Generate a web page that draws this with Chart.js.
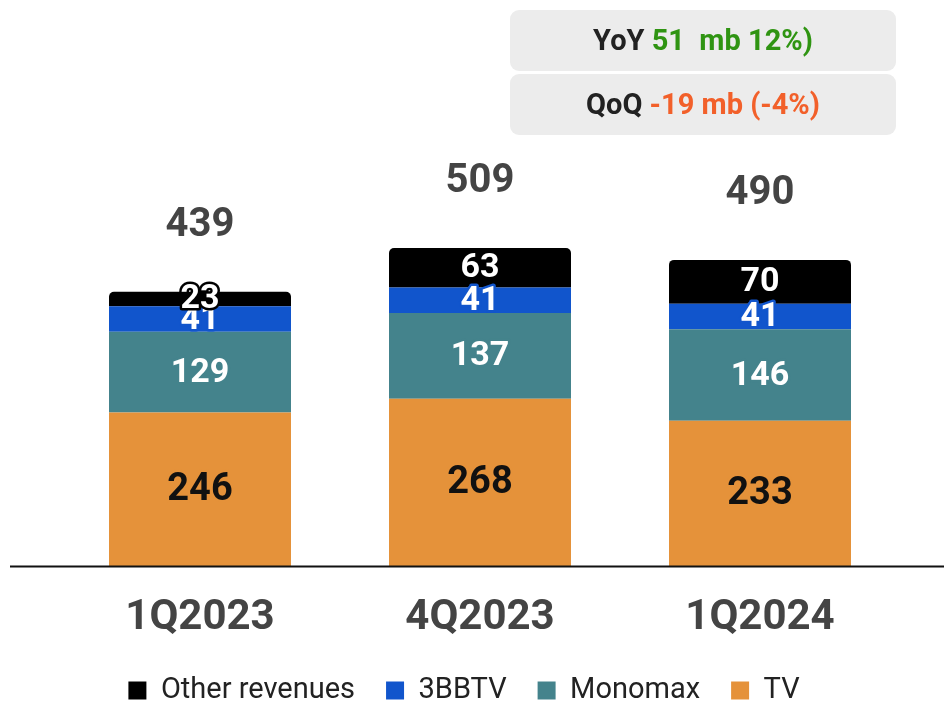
<!DOCTYPE html>
<html>
<head>
<meta charset="utf-8">
<script src="https://cdn.jsdelivr.net/npm/chart.js@4"></script>
<style>
  html, body { margin: 0; padding: 0; background: #fff; }
  #wrap { width: 944px; height: 701px; }
</style>
</head>
<body>
<div id="wrap"><canvas id="revChart"></canvas></div>
<script>
// quarters on the x axis
const categories = ["1Q2023", "4Q2023", "1Q2024"];

// revenue by segment (mb), stacked bottom to top
const tvValues = [246, 268, 233];
const monomaxValues = [129, 137, 146];
const bbtvValues = [41, 41, 41];
const otherValues = [23, 63, 70];

// totals printed above each bar
const totals = [439, 509, 490];

// change boxes at the top right
const yoyParts = [["YoY ", "#222222"], ["51  mb 12%)", "#2f9412"]];
const qoqParts = [["QoQ ", "#222222"], ["-19 mb (-4%)", "#f2602a"]];

const FONT = "Roboto, 'Noto Sans', sans-serif";

// values inside the segments, totals above the bars
const labelPlugin = {
  id: "segLabels",
  afterDatasetsDraw(chart) {
    const ctx = chart.ctx;
    ctx.save();
    ctx.textAlign = "center";
    ctx.textBaseline = "middle";
    chart.data.datasets.forEach(function (ds, di) {
      const meta = chart.getDatasetMeta(di);
      meta.data.forEach(function (bar, i) {
        const y = (bar.y + bar.base) / 2;
        const isTv = di === 0;
        ctx.font = "bold " + (isTv ? 38 : 34) + "px " + FONT;
        ctx.lineJoin = "round";
        ctx.lineWidth = 5;
        ctx.strokeStyle = ds.backgroundColor;
        ctx.strokeText(ds.data[i], bar.x, y + 1);
        ctx.fillStyle = isTv ? "#111111" : "#ffffff";
        ctx.fillText(ds.data[i], bar.x, y + 1);
      });
    });
    // totals
    const topMeta = chart.getDatasetMeta(chart.data.datasets.length - 1);
    ctx.font = "bold 40px " + FONT;
    ctx.fillStyle = "#444444";
    topMeta.data.forEach(function (bar, i) {
      ctx.fillText(totals[i], bar.x, bar.y - 66);
    });
    ctx.restore();
  }
};

// base line across the whole width, legend nudged left
const baseLinePlugin = {
  id: "baseLine",
  afterLayout(chart) {
    if (chart.legend) {
      chart.legend.left -= 16;
      chart.legend.right -= 16;
    }
  },
  afterDatasetsDraw(chart) {
    const ctx = chart.ctx;
    const y = chart.chartArea.bottom;
    ctx.save();
    ctx.strokeStyle = "#111111";
    ctx.lineWidth = 2;
    ctx.beginPath();
    ctx.moveTo(10, y);
    ctx.lineTo(chart.width, y);
    ctx.stroke();
    ctx.restore();
  }
};

// the YoY / QoQ boxes
const boxPlugin = {
  id: "changeBoxes",
  afterDraw(chart) {
    const ctx = chart.ctx;
    const boxes = [[10, yoyParts], [74, qoqParts]];
    ctx.save();
    boxes.forEach(function (b) {
      const top = b[0], parts = b[1];
      ctx.fillStyle = "#ececec";
      ctx.beginPath();
      ctx.roundRect(510, top, 386, 61, 9);
      ctx.fill();
      ctx.font = "bold 29px " + FONT;
      ctx.textBaseline = "middle";
      ctx.textAlign = "left";
      let w = 0;
      parts.forEach(function (p) { w += ctx.measureText(p[0]).width; });
      let x = 703 - w / 2;
      parts.forEach(function (p) {
        ctx.fillStyle = p[1];
        ctx.fillText(p[0], x, top + 33);
        x += ctx.measureText(p[0]).width;
      });
    });
    ctx.restore();
  }
};

new Chart("revChart", {
  type: "bar",
  data: {
    labels: categories,
    datasets: [
      { label: "TV", data: tvValues, backgroundColor: "#e5923a" },
      { label: "Monomax", data: monomaxValues, backgroundColor: "#44838c" },
      { label: "3BBTV", data: bbtvValues, backgroundColor: "#1155cc" },
      {
        label: "Other revenues", data: otherValues, backgroundColor: "#000000",
        borderRadius: { topLeft: 5, topRight: 5, bottomLeft: 0, bottomRight: 0 },
        borderSkipped: false
      }
    ]
  },
  options: {
    responsive: true,
    maintainAspectRatio: false,
    animation: false,
    layout: { padding: { top: 141, left: 60, right: 44, bottom: -14 } },
    datasets: {
      bar: { categoryPercentage: 1, barPercentage: 0.65 }
    },
    plugins: {
      legend: {
        position: "bottom",
        reverse: true,
        labels: {
          boxWidth: 18,
          boxHeight: 18,
          padding: 31,
          color: "#222222",
          font: { family: FONT, size: 29 }
        }
      },
      tooltip: { enabled: false }
    },
    scales: {
      x: {
        stacked: true,
        grid: { display: false },
        border: { display: false },
        afterFit: function (scale) {
          scale.height = 78.5;
        },
        ticks: {
          color: "#444444",
          padding: 19,
          font: { family: FONT, size: 42, weight: "bold" }
        }
      },
      y: {
        stacked: true,
        display: false,
        min: 0,
        max: 680
      }
    }
  },
  plugins: [labelPlugin, baseLinePlugin, boxPlugin]
});
</script>
</body>
</html>
